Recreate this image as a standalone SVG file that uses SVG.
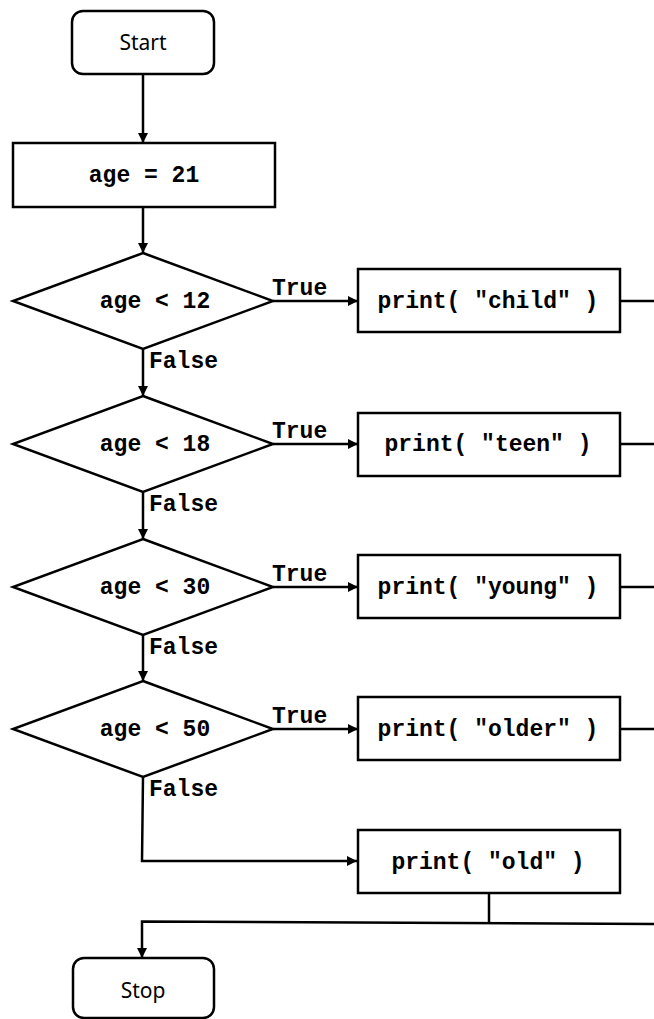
<svg xmlns="http://www.w3.org/2000/svg" width="654" height="1019" viewBox="0 0 654 1019">
<style>
.s{fill:#fff;stroke:#000;stroke-width:2.5}
.c{font-family:"Liberation Mono","Courier New",monospace;font-weight:bold;font-size:23px;fill:#000}
.m{text-anchor:middle}
.t{font-family:"Noto Sans","Open Sans",sans-serif;font-size:21px;fill:#000;text-anchor:middle}
.l{fill:none;stroke:#000;stroke-width:2.5}
</style>
<defs>
<marker id="ah" viewBox="0 0 10 10" refX="10" refY="5" markerWidth="10" markerHeight="10" markerUnits="userSpaceOnUse" orient="auto">
<path d="M0,0 L10,5 L0,10 Z" fill="#000"/>
</marker>
</defs>
<g id="connectors">
<path class="l" d="M143,74 V143" marker-end="url(#ah)"/>
<path class="l" d="M143,207 V253" marker-end="url(#ah)"/>
<path class="l" d="M143,349 V396" marker-end="url(#ah)"/>
<path class="l" d="M143,492 V539" marker-end="url(#ah)"/>
<path class="l" d="M143,635 V681" marker-end="url(#ah)"/>
<path class="l" d="M273,301 H358" marker-end="url(#ah)"/>
<path class="l" d="M273,444 H358" marker-end="url(#ah)"/>
<path class="l" d="M273,587 H358" marker-end="url(#ah)"/>
<path class="l" d="M273,729 H358" marker-end="url(#ah)"/>
<path class="l" d="M620,301 H654"/>
<path class="l" d="M620,444 H654"/>
<path class="l" d="M620,587 H654"/>
<path class="l" d="M620,729 H654"/>
<path class="l" d="M143,777 L142,861 H357" marker-end="url(#ah)"/>
<path class="l" d="M489,893 V922.5"/>
<path class="l" d="M654,924 L142,921.5 V958" marker-end="url(#ah)"/>
<text class="c" x="272" y="295">True</text>
<text class="c" x="272" y="438">True</text>
<text class="c" x="272" y="581">True</text>
<text class="c" x="272" y="723">True</text>
<text class="c" x="149" y="368">False</text>
<text class="c" x="149" y="511">False</text>
<text class="c" x="149" y="654">False</text>
<text class="c" x="149" y="796">False</text>
</g>
<g id="start"><rect class="s" x="72" y="11" width="142" height="63" rx="11"/><text class="t" x="143" y="50">Start</text></g>
<g id="assign"><rect class="s" x="13" y="143" width="262" height="64"/><text class="c m" x="144" y="182">age = 21</text></g>
<g id="d1"><polygon class="s" points="143,253 273,301 143,349 13,301"/><text class="c m" x="155" y="308">age &lt; 12</text></g>
<g id="d2"><polygon class="s" points="143,396 273,444 143,492 13,444"/><text class="c m" x="155" y="451">age &lt; 18</text></g>
<g id="d3"><polygon class="s" points="143,539 273,587 143,635 13,587"/><text class="c m" x="155" y="594">age &lt; 30</text></g>
<g id="d4"><polygon class="s" points="143,681 273,729 143,777 13,729"/><text class="c m" x="155" y="736">age &lt; 50</text></g>
<g id="p1"><rect class="s" x="358" y="269" width="262" height="63"/><text class="c m" x="488" y="308">print( "child" )</text></g>
<g id="p2"><rect class="s" x="358" y="413" width="262" height="63"/><text class="c m" x="488" y="451">print( "teen" )</text></g>
<g id="p3"><rect class="s" x="358" y="555" width="262" height="63"/><text class="c m" x="488" y="594">print( "young" )</text></g>
<g id="p4"><rect class="s" x="358" y="697" width="262" height="63"/><text class="c m" x="488" y="736">print( "older" )</text></g>
<g id="p5"><rect class="s" x="358" y="830" width="262" height="63"/><text class="c m" x="488" y="869">print( "old" )</text></g>
<g id="stop"><rect class="s" x="73" y="958" width="141" height="60" rx="11"/><text class="t" x="143" y="998">Stop</text></g>
</svg>
